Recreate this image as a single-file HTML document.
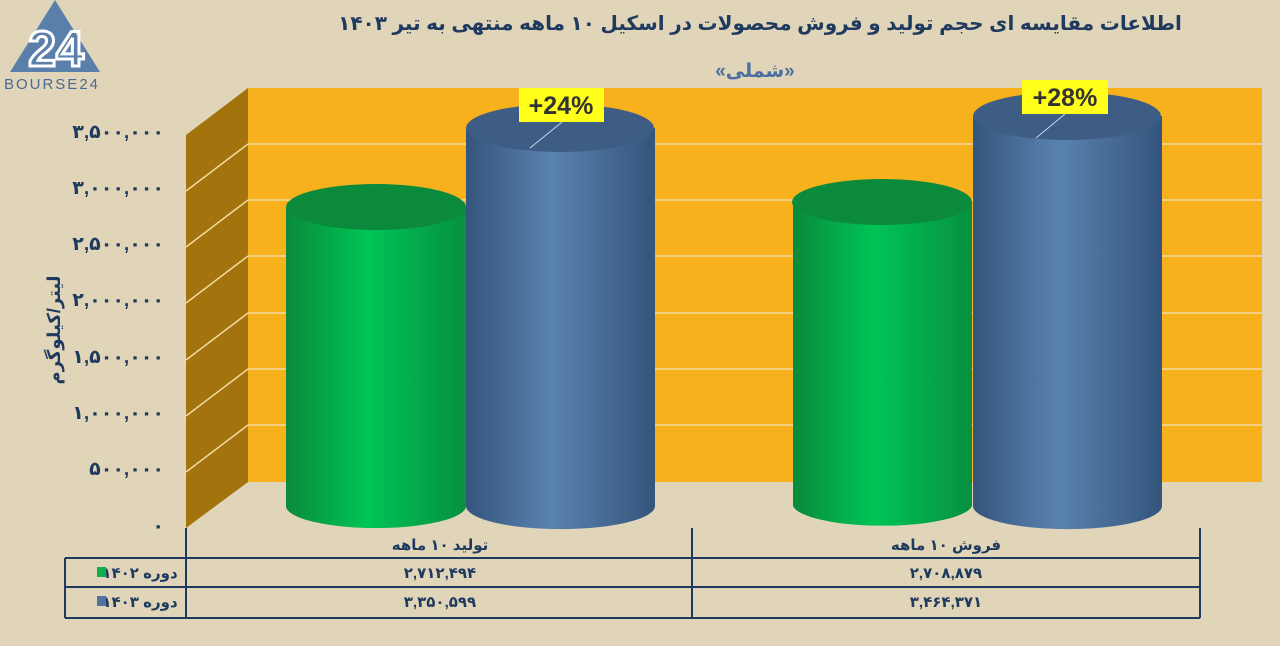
<!DOCTYPE html>
<html><head><meta charset="utf-8"><style>
body{margin:0;background:#e0d5b8;}
svg{display:block}
text{font-family:"Liberation Sans","DejaVu Sans",sans-serif;}
</style></head><body>
<svg width="1280" height="646" viewBox="0 0 1280 646" xmlns="http://www.w3.org/2000/svg">
<defs>
<linearGradient id="g" x1="0" x2="1"><stop offset="0" stop-color="#0a8a3a"/><stop offset="0.45" stop-color="#00c456"/><stop offset="1" stop-color="#079040"/></linearGradient>
<linearGradient id="b" x1="0" x2="1"><stop offset="0" stop-color="#34557c"/><stop offset="0.45" stop-color="#5a82b0"/><stop offset="1" stop-color="#34557c"/></linearGradient>
</defs>
<rect width="1280" height="646" fill="#e0d5b8"/>
<!-- logo -->
<polygon points="55,0 10,72 100,72" fill="#5a7fab"/>
<text x="56" y="66" font-size="50" fill="none" stroke="#fff" stroke-width="3" font-weight="bold" text-anchor="middle">24</text>
<text x="52" y="89" font-size="15" fill="#4a6a95" text-anchor="middle" letter-spacing="2">BOURSE24</text>
<!-- title -->
<text x="760" y="30" font-size="20" font-weight="bold" fill="#1f3a5f" text-anchor="middle" direction="rtl">اطلاعات مقایسه ای حجم تولید و فروش محصولات در اسکیل ۱۰ ماهه منتهی به تیر ۱۴۰۳</text>
<text x="755" y="77" font-size="19" font-weight="bold" fill="#4a6fa0" text-anchor="middle" direction="rtl">«شملی»</text>
<!-- walls -->
<rect x="248" y="88" width="1014" height="394" fill="#f7b11c"/>
<polygon points="186,135 248,88 248,482 186,528" fill="#a3740e"/>
<g stroke="#f3d9a0" stroke-width="1.5">
<line x1="248" y1="144" x2="1262" y2="144"/><line x1="248" y1="200" x2="1262" y2="200"/><line x1="248" y1="256" x2="1262" y2="256"/><line x1="248" y1="313" x2="1262" y2="313"/><line x1="248" y1="369" x2="1262" y2="369"/><line x1="248" y1="425" x2="1262" y2="425"/>
<line x1="186" y1="191" x2="248" y2="144"/><line x1="186" y1="247" x2="248" y2="200"/><line x1="186" y1="303" x2="248" y2="256"/><line x1="186" y1="360" x2="248" y2="313"/><line x1="186" y1="416" x2="248" y2="369"/><line x1="186" y1="472" x2="248" y2="425"/>
</g>
<!-- y labels -->
<g font-size="19" font-weight="bold" fill="#1f3a5f" text-anchor="end">
<text x="164" y="138">۳,۵۰۰,۰۰۰</text><text x="164" y="194">۳,۰۰۰,۰۰۰</text><text x="164" y="250">۲,۵۰۰,۰۰۰</text><text x="164" y="306">۲,۰۰۰,۰۰۰</text><text x="164" y="363">۱,۵۰۰,۰۰۰</text><text x="164" y="419">۱,۰۰۰,۰۰۰</text><text x="164" y="475">۵۰۰,۰۰۰</text><text x="164" y="532">۰</text>
</g>
<text transform="translate(60,330) rotate(-90)" font-size="18" font-weight="bold" fill="#1f3a5f" text-anchor="middle" direction="rtl">لیتر/کیلوگرم</text>
<!-- cylinders -->
<g>
<path d="M286,207 L286,506 A90,22 0 0 0 466,506 L466,207 Z" fill="url(#g)"/>
<ellipse cx="376" cy="207" rx="90" ry="23" fill="#0b8a3c"/>
<path d="M466,128 L466,506 A94,23 0 0 0 655,506 L655,128 Z" fill="url(#b)"/>
<ellipse cx="560" cy="128" rx="94" ry="24" fill="#3d5d85"/>
<path d="M793,202 L793,506 A90,22 0 0 0 972,506 L972,202 Z" fill="url(#g)"/>
<ellipse cx="882" cy="202" rx="90" ry="23" fill="#0b8a3c"/>
<path d="M973,116 L973,506 A94,23 0 0 0 1162,506 L1162,116 Z" fill="url(#b)"/>
<ellipse cx="1067" cy="116" rx="94" ry="24" fill="#3d5d85"/>
</g>
<line x1="562" y1="122" x2="530" y2="148" stroke="#c8d4e4" stroke-width="1"/>
<line x1="1065" y1="114" x2="1036" y2="138" stroke="#c8d4e4" stroke-width="1"/>
<rect x="519" y="88" width="85" height="34" fill="#ffff1a"/>
<text x="561" y="114" font-size="25" font-weight="bold" fill="#333" text-anchor="middle">+24%</text>
<rect x="1022" y="80" width="86" height="34" fill="#ffff1a"/>
<text x="1065" y="106" font-size="25" font-weight="bold" fill="#333" text-anchor="middle">+28%</text>
<!-- table -->
<g stroke="#1f3a5f" stroke-width="2" fill="none">
<line x1="186" y1="528" x2="186" y2="618"/><line x1="692" y1="528" x2="692" y2="618"/><line x1="1200" y1="528" x2="1200" y2="618"/>
<line x1="65" y1="558" x2="1200" y2="558"/><line x1="65" y1="587" x2="1200" y2="587"/><line x1="65" y1="618" x2="1200" y2="618"/>
<line x1="65" y1="558" x2="65" y2="618"/>
</g>
<g font-size="15" font-weight="bold" fill="#1f3a5f" text-anchor="middle" direction="rtl">
<text x="440" y="550">تولید ۱۰ ماهه</text><text x="946" y="550">فروش ۱۰ ماهه</text>
<text x="440" y="578">۲,۷۱۲,۴۹۴</text><text x="946" y="578">۲,۷۰۸,۸۷۹</text>
<text x="440" y="607">۳,۳۵۰,۵۹۹</text><text x="946" y="607">۳,۴۶۴,۳۷۱</text>
<text x="140" y="578">دوره ۱۴۰۲</text><text x="140" y="607">دوره ۱۴۰۳</text>
</g>
<rect x="97" y="567" width="9" height="10" fill="#12b04c"/>
<rect x="97" y="596" width="9" height="10" fill="#4f72a0"/>
</svg>
</body></html>
